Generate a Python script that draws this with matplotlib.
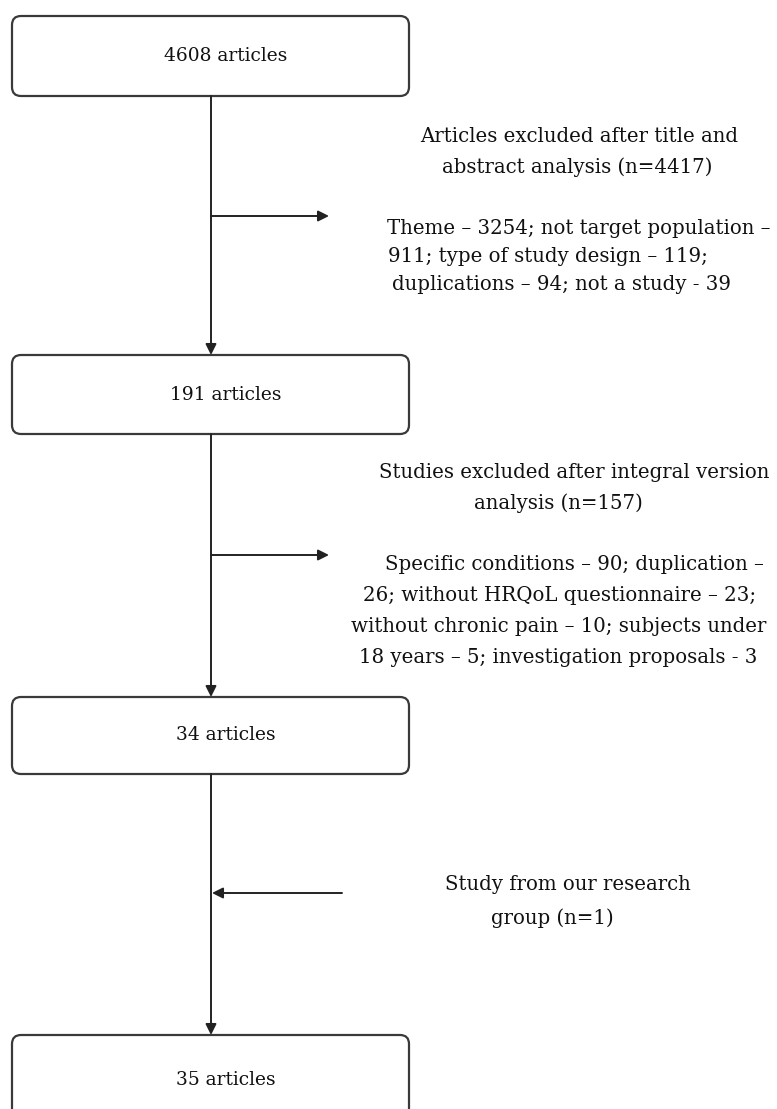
#!/usr/bin/env python3
import matplotlib.pyplot as plt
from matplotlib.patches import FancyBboxPatch

# flow counts
box_labels = ["4608 articles", "191 articles", "34 articles", "35 articles"]

excl1_head = ["Articles excluded after title and", "abstract analysis (n=4417)"]
excl1_body = [
    "Theme \u2013 3254; not target population \u2013",
    "911; type of study design \u2013 119;",
    "duplications \u2013 94; not a study - 39",
]
excl2_head = ["Studies excluded after integral version", "analysis (n=157)"]
excl2_body = [
    "Specific conditions \u2013 90; duplication \u2013",
    "26; without HRQoL questionnaire \u2013 23;",
    "without chronic pain \u2013 10; subjects under",
    "18 years \u2013 5; investigation proposals - 3",
]
added = ["Study from our research", "group (n=1)"]

W, H = 777, 1109
FONT = "DejaVu Serif"
FS_BOX = 13.4
FS = 14.2
EDGE = "#3a3a3a"


def main() -> None:
    fig = plt.figure(figsize=(W / 100, H / 100), dpi=100)
    ax = fig.add_axes([0, 0, 1, 1])
    ax.set_xlim(0, W)
    ax.set_ylim(H, 0)
    ax.axis("off")

    # boxes: (top, bottom)
    boxes = [(16, 96), (355, 434), (697, 774), (1035, 1125)]
    bx0, bx1 = 12, 409
    cx = 211
    for (top, bot), lab in zip(boxes, box_labels):
        ax.add_patch(FancyBboxPatch((bx0, top), bx1 - bx0, bot - top,
                                    boxstyle="round,pad=0,rounding_size=9",
                                    fc="white", ec=EDGE, lw=1.6))
        ty = (top + bot) / 2 if bot < H else 1080
        ax.text(226, ty, lab, ha="center", va="center",
                family=FONT, fontsize=FS_BOX, color="#111")

    arrow = dict(arrowstyle="-|>", color="#222", lw=1.4, mutation_scale=16,
                 shrinkA=0, shrinkB=0)
    for (t0, b0), (t1, b1) in zip(boxes[:-1], boxes[1:]):
        ax.annotate("", xy=(cx, t1), xytext=(cx, b0), arrowprops=arrow)

    # side arrows
    ax.annotate("", xy=(329, 216), xytext=(cx, 216), arrowprops=arrow)
    ax.annotate("", xy=(329, 555), xytext=(cx, 555), arrowprops=arrow)
    ax.annotate("", xy=(cx + 1, 893), xytext=(342, 893), arrowprops=arrow)

    def block(lines, xs, y0, dy):
        for i, (s, x) in enumerate(zip(lines, xs)):
            ax.text(x, y0 + i * dy, s, ha="center", va="center",
                    family=FONT, fontsize=FS, color="#111")

    block(excl1_head, [579, 577], 136, 31)
    block(excl1_body, [579, 548, 562], 228, 28)
    block(excl2_head, [574, 558], 472, 31)
    block(excl2_body, [574, 560, 559, 558], 565, 30.7)
    block(added, [568, 552], 884, 34)

    fig.savefig("out.png", dpi=100)
    plt.close(fig)


if __name__ == "__main__":
    main()
